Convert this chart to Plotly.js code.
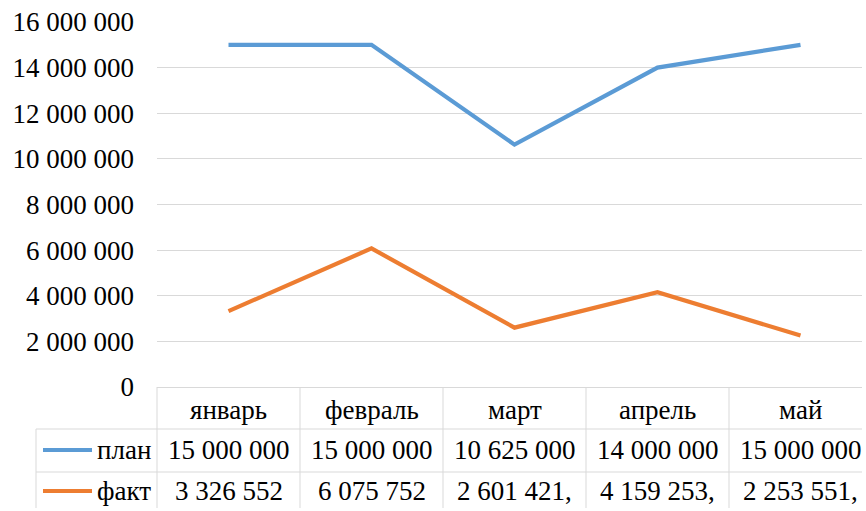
<!DOCTYPE html>
<html>
<head>
<meta charset="utf-8">
<script src="https://cdn.plot.ly/plotly-3.0.1.min.js"></script>
<style>
html,body{margin:0;padding:0;background:#fff;}
#chart text{font-family:'Liberation Serif',serif !important;}
</style>
</head>
<body>
<div id="chart"></div>
<script>
// ---- data ----
var months = ['январь', 'февраль', 'март', 'апрель', 'май'];
var seriesNames = ['план', 'факт'];
var plan = [15000000, 15000000, 10625000, 14000000, 15000000];
var fact = [3326552, 6075752, 2601421.4, 4159253.6, 2253551.3];
var colors = ['#5b9bd5', '#ed7d31'];

// ---- helpers ----
function fmt(v) {
  var intPart = Math.trunc(v).toString().replace(/\B(?=(\d{3})+(?!\d))/g, ' ');
  // cell too narrow: Excel shows the integer part followed by the decimal comma
  return Number.isInteger(v) ? intPart : intPart + ',';
}

var FONT = 'Liberation Serif';
var FS = 27;
var GRID = '#d9d9d9';

// pixel layout (the chart is cropped on the right and at the bottom)
var W = 862, H = 508, L = 157, T = 22, PLOT_H = 365;
var plotW = W - L;
var CAT_W = 143;                       // width of one category column
var xMax = plotW / CAT_W - 0.5;        // visible part of the category axis
function py(p) { return (T + PLOT_H - p) / PLOT_H; }   // pixel y -> paper y
function px(p) { return (p - L) / plotW; }             // pixel x -> paper x

var rowTop = [387, 429, 472];
var rowBottom = H;
var rowCenters = [410, 450, 491];

var traces = [plan, fact].map(function (vals, i) {
  return {
    type: 'scatter', mode: 'lines', x: months, y: vals, name: seriesNames[i],
    line: {color: colors[i], width: 4.2}, hoverinfo: 'skip', cliponaxis: false
  };
});

var shapes = [];
var annotations = [];

shapes.push({type: 'line', xref: 'paper', yref: 'paper', x0: px(36), x1: 1, y0: py(rowTop[1]), y1: py(rowTop[1]), line: {color: GRID, width: 1}});
shapes.push({type: 'line', xref: 'paper', yref: 'paper', x0: px(36), x1: 1, y0: py(rowTop[2]), y1: py(rowTop[2]), line: {color: GRID, width: 1}});
shapes.push({type: 'line', xref: 'paper', yref: 'paper', x0: px(36), x1: px(36), y0: py(rowTop[1]), y1: py(rowBottom), line: {color: GRID, width: 1}});
shapes.push({type: 'line', xref: 'paper', yref: 'paper', x0: 0, x1: 0, y0: py(rowTop[0]), y1: py(rowBottom), line: {color: GRID, width: 1}});
for (var c = 1; c < months.length; c++) {
  shapes.push({type: 'line', xref: 'x', yref: 'paper', x0: c - 0.5, x1: c - 0.5, y0: py(rowTop[0]), y1: py(rowBottom), line: {color: GRID, width: 1}});
}

months.forEach(function (m) {
  annotations.push({xref: 'x', yref: 'paper', x: m, y: py(rowCenters[0]), text: m, showarrow: false,
    xanchor: 'center', yanchor: 'middle', font: {family: FONT, size: FS, color: '#000'}});
});

[plan, fact].forEach(function (vals, r) {
  var yc = py(rowCenters[r + 1]);
  shapes.push({type: 'line', xref: 'paper', yref: 'paper', x0: px(43), x1: px(92), y0: yc, y1: yc,
    line: {color: colors[r], width: 4.2}});
  annotations.push({xref: 'paper', yref: 'paper', x: px(95), y: yc, text: seriesNames[r], showarrow: false,
    xanchor: 'left', yanchor: 'middle', font: {family: FONT, size: FS, color: '#000'}});
  vals.forEach(function (v, i) {
    annotations.push({xref: 'x', yref: 'paper', x: months[i], y: yc, text: fmt(v), showarrow: false,
      xanchor: 'center', yanchor: 'middle', font: {family: FONT, size: FS, color: '#000'}});
  });
});

var layout = {
  width: W, height: H,
  margin: {l: L, r: 0, t: T, b: H - T - PLOT_H, pad: 0},
  paper_bgcolor: '#fff', plot_bgcolor: '#fff',
  showlegend: false,
  separators: ', ',
  font: {family: FONT, size: FS, color: '#000'},
  xaxis: {type: 'category', range: [-0.5, xMax], showticklabels: false, showgrid: false,
    zeroline: false, showline: false, ticks: ''},
  yaxis: {range: [0, 16000000], dtick: 2000000, tick0: 0, tickformat: ',d',
    showgrid: true, gridcolor: GRID, gridwidth: 1, zeroline: true, zerolinecolor: GRID, zerolinewidth: 1,
    showline: false, ticks: '', ticklabelstandoff: 22,
    tickfont: {family: FONT, size: FS, color: '#000'}},
  shapes: shapes,
  annotations: annotations
};

Plotly.newPlot('chart', traces, layout, {displayModeBar: false});
</script>
</body>
</html>
